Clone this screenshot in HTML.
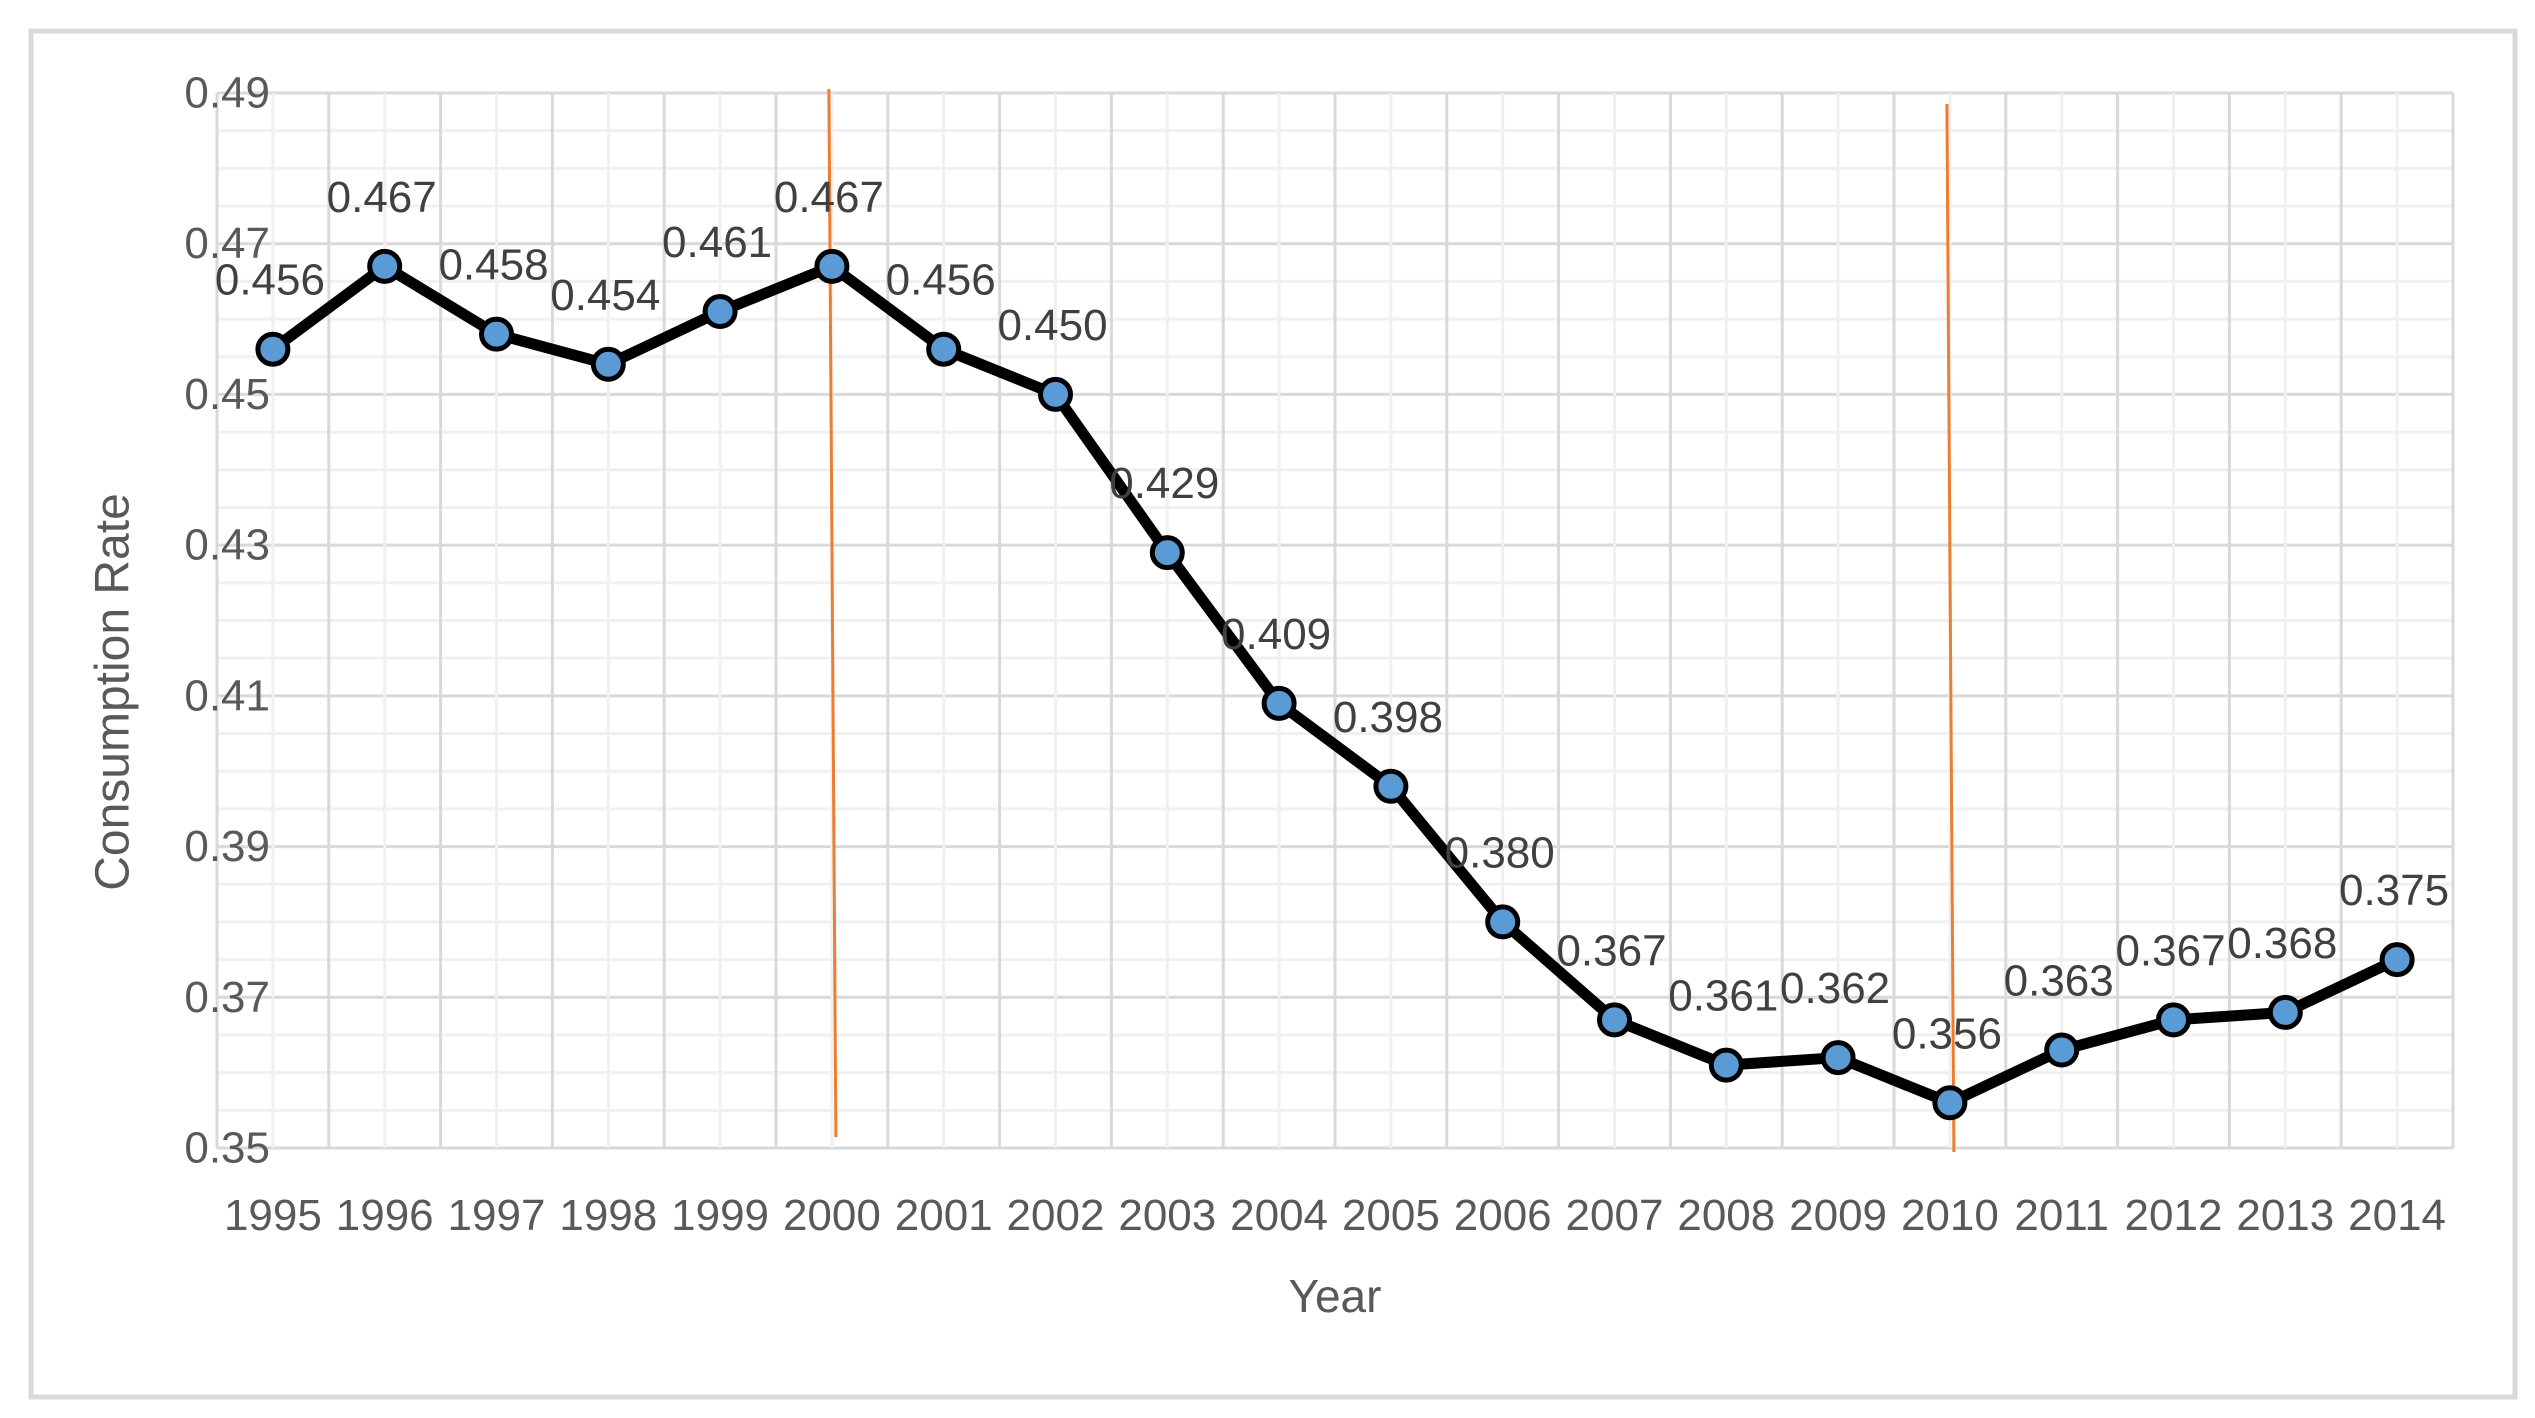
<!DOCTYPE html>
<html><head><meta charset="utf-8"><style>
html,body{margin:0;padding:0;background:#fff;}
svg{display:block;font-family:"Liberation Sans",sans-serif;}
</style></head><body>
<svg id="chart" width="2535" height="1418" viewBox="0 0 2535 1418">
<rect x="31" y="31" width="2484" height="1366" fill="#fff" stroke="#d9d9d9" stroke-width="5"/>
<g id="grid"></g>
<g id="vlines"></g>
<g id="series"></g>
<g id="labels"></g>
<g id="axes"></g>
<text x="113" y="692" transform="rotate(-90 113 692)" text-anchor="middle" dominant-baseline="central" font-size="48" fill="#595959">Consumption Rate</text>
<text x="1335" y="1296" text-anchor="middle" dominant-baseline="central" font-size="46" fill="#595959">Year</text>
</svg>
<script>
const years = ["1995","1996","1997","1998","1999","2000","2001","2002","2003","2004","2005","2006","2007","2008","2009","2010","2011","2012","2013","2014"];
const rates = [0.456,0.467,0.458,0.454,0.461,0.467,0.456,0.450,0.429,0.409,0.398,0.380,0.367,0.361,0.362,0.356,0.363,0.367,0.368,0.375];
const rateLabels = ["0.456","0.467","0.458","0.454","0.461","0.467","0.456","0.450","0.429","0.409","0.398","0.380","0.367","0.361","0.362","0.356","0.363","0.367","0.368","0.375"];
const yTicks = [0.35,0.37,0.39,0.41,0.43,0.45,0.47,0.49];
const yTickLabels = ["0.35","0.37","0.39","0.41","0.43","0.45","0.47","0.49"];
const refYears = ["2000","2010"];

const NS="http://www.w3.org/2000/svg";
const L=217,R=2453,T=93,B=1148,yMin=0.35,yMax=0.49;
const step=(R-L)/years.length;
function xPos(i){return L+step*(i+0.5);}
function yPos(v){return B-(v-yMin)/(yMax-yMin)*(B-T);}
function mk(tag,attrs,parent){const e=document.createElementNS(NS,tag);for(const k in attrs)e.setAttribute(k,attrs[k]);parent.appendChild(e);return e;}
const grid=document.getElementById('grid'),axes=document.getElementById('axes'),series=document.getElementById('series'),labels=document.getElementById('labels'),vl=document.getElementById('vlines');
for(let k=0;k<=28;k++){const v=yMin+k*0.005;const y=yPos(v);
 const ln=mk('line',{x1:L,x2:R,y1:y,y2:y,stroke:(k%4===0)?'#d9d9d9':'#f0f0f0','stroke-width':3},grid);
 
 }
for(let i=0;i<=years.length;i++){const x=L+step*i;
 const ln=mk('line',{x1:x,x2:x,y1:T,y2:B,stroke:'#d9d9d9','stroke-width':3},grid);
 
 
 if(i<years.length){const xm=xPos(i);
 const l2=mk('line',{x1:xm,x2:xm,y1:T,y2:B,stroke:'#f0f0f0','stroke-width':3},grid);
 
 }}
yTicks.forEach((v,i)=>{const t=mk('text',{x:270,y:yPos(v),'text-anchor':'end','dominant-baseline':'central','font-size':44,fill:'#595959'},axes);t.textContent=yTickLabels[i];
 
 });
years.forEach((yr,i)=>{const t=mk('text',{x:xPos(i),y:1230,'text-anchor':'middle','font-size':44,fill:'#595959'},axes);t.textContent=yr;
 
 });
refYears.forEach(r=>{const i=years.indexOf(r);const x=xPos(i);
 const ln=mk('line',{x1:x-3,x2:x+4,y1:(i<10?89:104),y2:(i<10?1137:1152),stroke:'#ed7d31','stroke-width':3},vl);
 
 });
const pts=rates.map((v,i)=>xPos(i)+','+yPos(v)).join(' ');
const pl=mk('polyline',{points:pts,fill:'none',stroke:'#000','stroke-width':11,'stroke-linejoin':'round'},series);


rates.forEach((v,i)=>{const c=mk('circle',{cx:xPos(i),cy:yPos(v),r:15,fill:'#5b9bd5',stroke:'#000','stroke-width':5},series);
 
 
 const t=mk('text',{x:xPos(i)-3,y:yPos(v)-69,'text-anchor':'middle','dominant-baseline':'central','font-size':44,fill:'#404040'},labels);
 t.textContent=rateLabels[i];
 
 });
</script>
</body></html>
